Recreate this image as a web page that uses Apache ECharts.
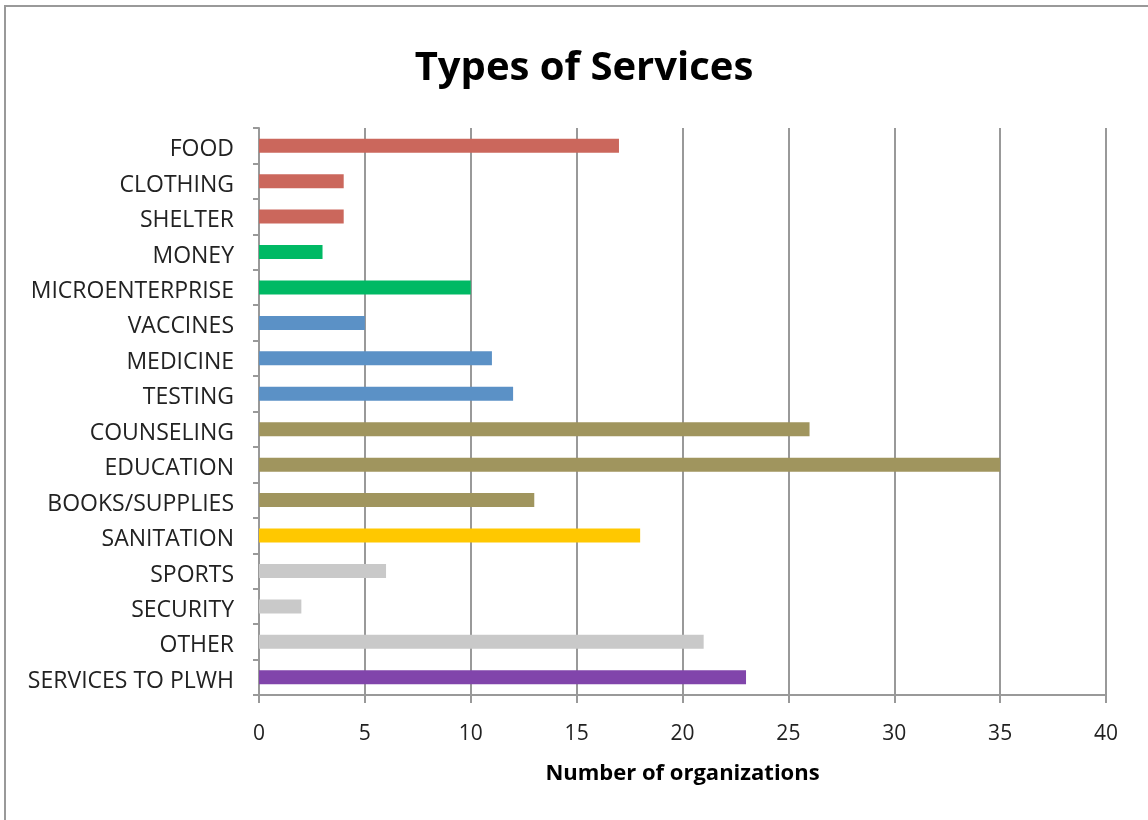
<!DOCTYPE html>
<html><head><meta charset="utf-8">
<script src="https://cdn.jsdelivr.net/npm/echarts@6/dist/echarts.min.js"></script>
<style>html,body{margin:0;padding:0;background:#fff}#c{width:1148px;height:820px}</style>
</head><body><div id="c"></div>
<script>
const categories = ["FOOD","CLOTHING","SHELTER","MONEY","MICROENTERPRISE","VACCINES","MEDICINE","TESTING","COUNSELING","EDUCATION","BOOKS/SUPPLIES","SANITATION","SPORTS","SECURITY","OTHER","SERVICES TO PLWH"];
const values = [17,4,4,3,10,5,11,12,26,35,13,18,6,2,21,23];
const barColors = ["#CB675C","#CB675C","#CB675C","#00B964","#00B964","#5B91C6","#5B91C6","#5B91C6","#A0955E","#A0955E","#A0955E","#FFC800","#C9C9C9","#C9C9C9","#C9C9C9","#8145AB"];
const xTicks = {min:0, max:40, interval:5};

const chart = echarts.init(document.getElementById('c'), null, {renderer:'canvas'});
const font = '"Open Sans", "Liberation Sans", sans-serif';
chart.setOption({
  backgroundColor:'#fff',
  animation:false,
  title:{text:'Types of Services', left:579, textAlign:'center', top:44,
    textStyle:{fontFamily:font, fontSize:40, fontWeight:'bold', color:'#000'}},
  graphic:[
    {type:'line', shape:{x1:5,y1:6,x2:1148,y2:6}, style:{stroke:'#999',lineWidth:2}},
    {type:'line', shape:{x1:5,y1:5,x2:5,y2:820}, style:{stroke:'#999',lineWidth:2}}
  ],
  grid:{left:259, right:42, top:128, bottom:125},
  xAxis:{type:'value', min:xTicks.min, max:xTicks.max, interval:xTicks.interval,
    name:'Number of organizations', nameLocation:'middle', nameGap:68,
    nameTextStyle:{fontFamily:font, fontSize:22, fontWeight:'bold', color:'#000'},
    axisLine:{show:true, lineStyle:{color:'#999', width:2}},
    axisTick:{show:true, length:8, lineStyle:{color:'#999', width:2}},
    axisLabel:{fontFamily:font, fontSize:21, color:'#222', margin:29},
    splitLine:{show:true, lineStyle:{color:'#999', width:2}}
  },
  yAxis:{type:'category', data:categories, inverse:true,
    axisLine:{show:true, lineStyle:{color:'#999', width:2}},
    axisTick:{show:true, length:6, alignWithLabel:false, lineStyle:{color:'#999', width:2}},
    axisLabel:{fontFamily:font, fontSize:23, color:'#222', margin:25, verticalAlign:'top', lineHeight:8},
    splitLine:{show:false}
  },
  series:[{type:'bar', barWidth:14,
    data: values.map((v,i)=>({value:v, itemStyle:{color:barColors[i]}}))
  }]
});
</script></body></html>
